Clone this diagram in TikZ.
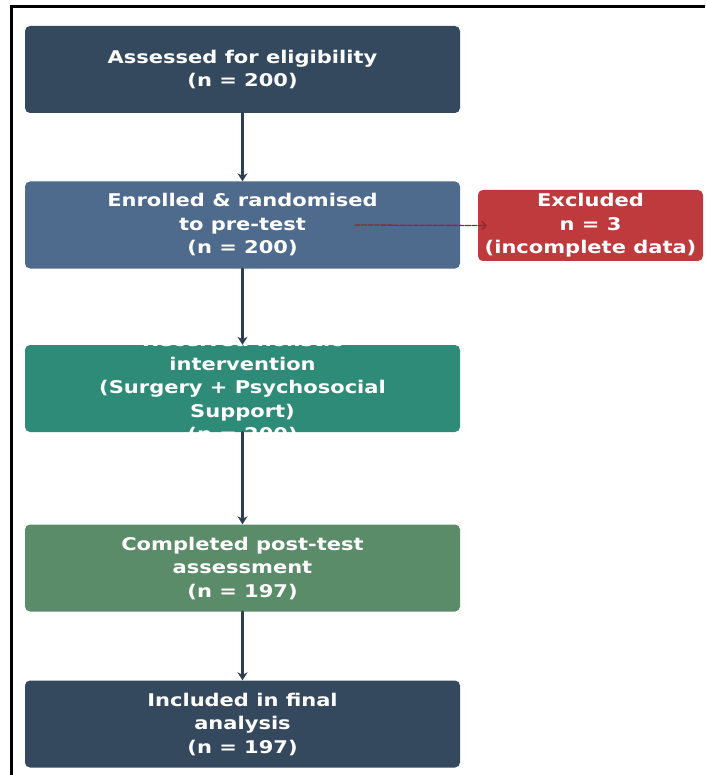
\documentclass[tikz,border=0pt]{standalone}
\usepackage{fontspec}
\setmainfont{DejaVu Sans}[FakeStretch=1.2]
\usetikzlibrary{calc,arrows.meta}

\definecolor{navy}{HTML}{34495E}
\definecolor{steel}{HTML}{4E6B8E}
\definecolor{teal}{HTML}{2E8B78}
\definecolor{sage}{HTML}{5B8C69}
\definecolor{exred}{HTML}{BF3A3D}
\definecolor{arrowcol}{HTML}{2C3E50}
\definecolor{dashcol}{HTML}{8E2A2E}

\begin{document}
\begin{tikzpicture}[x=1pt, y=-1pt, line cap=round,
	flowbox/.style={rounded corners=5pt, minimum width=435pt, minimum height=87pt, inner sep=0pt},
	boxtext/.style={text=white, align=center, font=\fontsize{17.5}{23.5}\selectfont\bfseries},
	flow/.style={line width=2.6pt, draw=arrowcol, -{Stealth[length=8pt, width=10pt]}}]
		% Frame
		\useasboundingbox (0,0) rectangle (705,775);
		\draw[line width=2.5pt, line cap=butt] (11.5,775) -- (11.5,6.5) -- (705,6.5);
		
		% Boxes
		\node[flowbox, fill=navy, label={[boxtext]center:{Assessed for eligibility\\(n = 200)}}] (assess) at (242.5,69.5) {};
		\node[flowbox, fill=steel, label={[boxtext]center:{Enrolled \& randomised\\to pre-test\\(n = 200)}}] (enrol) at (242.5,225) {};
		\node[flowbox, fill=teal, label={[boxtext]center:{Received holistic\\intervention\\(Surgery + Psychosocial\\Support)\\(n = 200)}}] (interv) at (242.5,388.5) {};
		\node[flowbox, fill=sage, label={[boxtext]center:{Completed post-test\\assessment\\(n = 197)}}] (post) at (242.5,568) {};
		\node[flowbox, fill=navy, label={[boxtext]center:{Included in final\\analysis\\(n = 197)}}] (final) at (242.5,724) {};
		%
		\node[flowbox, fill=exred, minimum width=225pt, minimum height=71pt, label={[boxtext]center:{Excluded\\n = 3\\(incomplete data)}}] (excl) at (590.5,225.5) {};
		
		% Coordinates
		\coordinate (exstart) at (355,225);
		\coordinate (exend) at ($(excl.west)+(9,0)$);
		
		% Arrows
		\draw[flow] (assess) -- (enrol);
		\draw[flow] (enrol) -- (interv);
		\draw[flow] (interv) -- (post);
		\draw[flow] (post) -- (final);
		\draw[line width=1.3pt, draw=dashcol, dash pattern=on 5pt off 1.5pt, -{Straight Barb[length=4pt, width=8pt]}] (exstart) -- (exend);
	\end{tikzpicture}
\end{document}
